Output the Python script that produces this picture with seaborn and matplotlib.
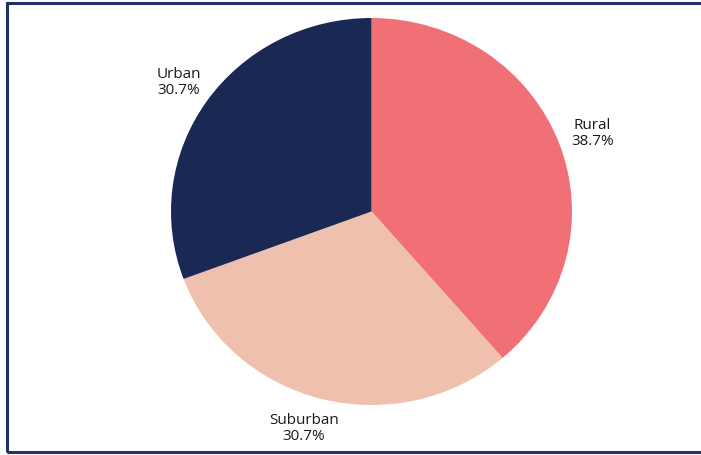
import numpy as np
import matplotlib
matplotlib.use("Agg")
import matplotlib.pyplot as plt
from matplotlib.patches import Rectangle
import seaborn as sns

categories = ["Rural", "Suburban", "Urban"]
shares = [38.7, 30.7, 30.7]
pct_labels = ["38.7%", "30.7%", "30.7%"]
colors = ["#F07075", "#EFC0AE", "#1A2954"]

sns.set_theme(style="white")
plt.rcParams["font.family"] = ["Open Sans", "DejaVu Sans"]

fig = plt.figure(figsize=(7.01, 4.55), dpi=100)
ax = fig.add_axes([171 / 701, 1 - 405 / 455, 401 / 701, 387 / 455])

wedges, _ = ax.pie(
    shares,
    colors=colors,
    startangle=90,
    counterclock=False,
    radius=1.0,
    wedgeprops=dict(linewidth=0),
)
ax.set_aspect("auto")
ax.set_xlim(-1, 1)
ax.set_ylim(-1, 1)
ax.axis("off")

# outside labels placed along each wedge's mid-angle
label_dist = [1.16, 1.16, 1.17]
x_shift = [0.015, -0.05, 0.0]
for w, name, pct, d, dx in zip(wedges, categories, pct_labels, label_dist, x_shift):
    mid = np.deg2rad((w.theta1 + w.theta2) / 2)
    x, y = d * np.cos(mid) + dx, d * np.sin(mid)
    ax.text(x, y, f"{name}\n{pct}", ha="center", va="center",
            multialignment="center", fontsize=11, color="#1A1A1A",
            linespacing=1.1, clip_on=False)

# frame around the figure
fig.add_artist(Rectangle((7 / 701, 3 / 455), 1.2, 1 - 6 / 455,
                         transform=fig.transFigure, fill=False,
                         edgecolor="#1F3461", linewidth=2.2, clip_on=False))

fig.savefig("out.png", dpi=100)
